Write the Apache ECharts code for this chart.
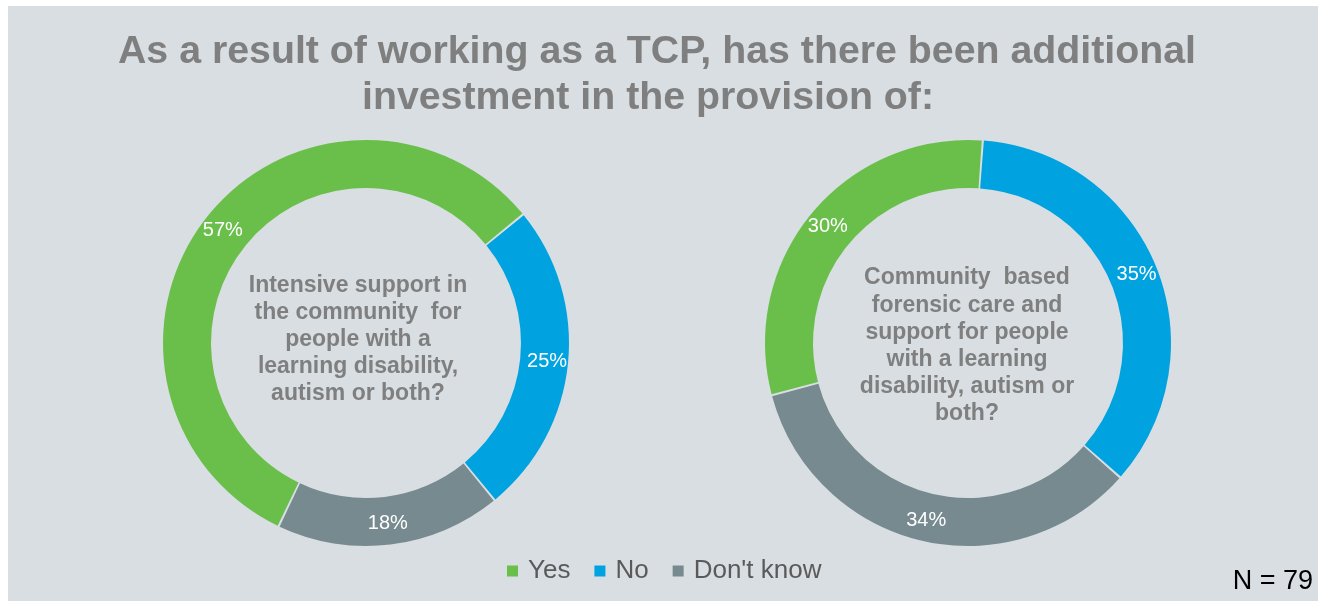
<!DOCTYPE html>
<html>
<head>
<meta charset="utf-8">
<script src="https://cdn.jsdelivr.net/npm/echarts@6/dist/echarts.min.js"></script>
<style>
  html, body { margin: 0; padding: 0; background: #ffffff; }
  #panel { position: absolute; left: 8px; top: 6px; right: 0; bottom: 0; background: #d8dee2; }
  #chart { position: absolute; left: 0; top: 0; width: 1318px; height: 601px; }
</style>
</head>
<body>
<div id="panel"></div>
<div id="chart"></div>
<script>
// Survey answers (percent of respondents)
const categories = ['Yes', 'No', "Don't know"];
const intensiveSupport = [57, 25, 18];
const forensicCare = [30, 35, 34];

const titleLines = [
  'As a result of working as a TCP, has there been additional',
  'investment in the provision of:'
];
const leftQuestion = [
  'Intensive support in',
  'the community  for',
  'people with a',
  'learning disability,',
  'autism or both?'
];
const rightQuestion = [
  'Community  based',
  'forensic care and',
  'support for people',
  'with a learning',
  'disability, autism or',
  'both?'
];
const sampleNote = 'N = 79';

const colors = ['#6abf4b', '#00a3e0', '#778a90'];
const FONT = '"Liberation Sans", Arial, sans-serif';

function ring(values, centerX, startAngle) {
  return {
    type: 'pie',
    center: [centerX, 343],
    radius: [155, 203],
    startAngle: startAngle,
    clockwise: true,
    padAngle: 0.6,
    avoidLabelOverlap: false,
    silent: true,
    label: {
      show: true,
      position: 'inside',
      formatter: '{c}%',
      color: '#ffffff',
      fontSize: 20,
      fontFamily: FONT
    },
    labelLine: { show: false },
    emphasis: { disabled: true },
    data: categories.map((name, i) => ({
      name: name,
      value: values[i],
      itemStyle: { color: colors[i] }
    }))
  };
}

const chart = echarts.init(document.getElementById('chart'), null, { renderer: 'canvas' });

chart.setOption({
  backgroundColor: 'transparent',
  animation: false,
  color: colors,
  legend: {
    data: categories,
    left: 507,
    top: 558,
    padding: 0,
    icon: 'rect',
    itemWidth: 11,
    itemHeight: 11,
    itemGap: 24,
    selectedMode: false,
    textStyle: {
      fontSize: 26,
      color: '#5a5a5a',
      fontFamily: FONT,
      padding: [0, 0, 0, 5]
    }
  },
  graphic: [
    {
      type: 'text', x: 657, y: 52,
      style: { text: titleLines[0], fill: '#7f7f7f', font: 'bold 39.3px ' + FONT, align: 'center', verticalAlign: 'middle' }
    },
    {
      type: 'text', x: 648, y: 98,
      style: { text: titleLines[1], fill: '#7f7f7f', font: 'bold 39.3px ' + FONT, align: 'center', verticalAlign: 'middle' }
    },
    {
      type: 'text', x: 358, y: 340,
      style: { text: leftQuestion.join('\n'), fill: '#7f7f7f', font: 'bold 23px ' + FONT, lineHeight: 27, align: 'center', verticalAlign: 'middle' }
    },
    {
      type: 'text', x: 967, y: 346,
      style: { text: rightQuestion.join('\n'), fill: '#7f7f7f', font: 'bold 23px ' + FONT, lineHeight: 27.2, align: 'center', verticalAlign: 'middle' }
    },
    {
      type: 'text', x: 1313, y: 582,
      style: { text: sampleNote, fill: '#000000', font: '27px ' + FONT, align: 'right', verticalAlign: 'middle' }
    }
  ],
  series: [
    ring(intensiveSupport, 366, 244.5),
    ring(forensicCare, 968, 194.9)
  ]
});
</script>
</body>
</html>
